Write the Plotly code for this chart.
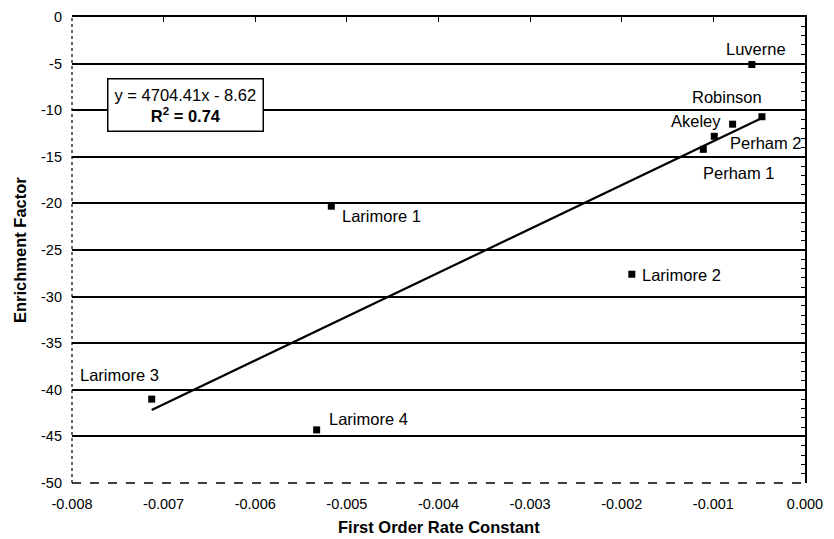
import plotly.graph_objects as go

# ---- data ----
sites = ["Luverne", "Robinson", "Akeley", "Perham 2", "Perham 1",
         "Larimore 1", "Larimore 2", "Larimore 3", "Larimore 4"]
rate_constant = [-0.00058, -0.00047, -0.00079, -0.00099, -0.00111,
                 -0.00517, -0.00189, -0.00713, -0.00533]
enrichment = [-5.1, -10.7, -11.5, -12.8, -14.2,
              -20.3, -27.6, -41.0, -44.3]

slope = 4704.41
intercept = -8.62
r_squared = 0.74

x_tick_vals = [-0.008, -0.007, -0.006, -0.005, -0.004, -0.003, -0.002, -0.001, 0.0]
x_tick_text = ["-0.008", "-0.007", "-0.006", "-0.005", "-0.004", "-0.003", "-0.002", "-0.001", "0.000"]
y_tick_vals = [0, -5, -10, -15, -20, -25, -30, -35, -40, -45, -50]
y_tick_text = ["0", "-5", "-10", "-15", "-20", "-25", "-30", "-35", "-40", "-45", "-50"]
grid_vals = [-5, -10, -15, -20, -25, -30, -35, -40, -45]

FONT = "Arial, Liberation Sans, sans-serif"

# label placement (anchor, xshift, yshift) per site
label_pos = {
    "Luverne": ("right", 36, 16),
    "Robinson": ("right", 2, 20),
    "Akeley": ("right", -10, 3),
    "Perham 2": ("left", 14, -7),
    "Perham 1": ("left", -2, -24),
    "Larimore 1": ("left", 9, -10),
    "Larimore 2": ("left", 8, -1),
    "Larimore 3": ("left", -74, 24),
    "Larimore 4": ("left", 10, 11),
}

x_line = [min(rate_constant), max(rate_constant)]
y_line = [slope * v + intercept for v in x_line]

fig = go.Figure()
fig.add_trace(go.Scatter(
    x=x_line, y=y_line, mode="lines",
    line=dict(color="black", width=2.2),
    xaxis="x2", yaxis="y2", showlegend=False, hoverinfo="skip"))
fig.add_trace(go.Scatter(
    x=rate_constant, y=enrichment, mode="markers",
    marker=dict(symbol="square", size=7, color="black"),
    showlegend=False))

annotations = []
for s, xv, yv in zip(sites, rate_constant, enrichment):
    anc, dx, dy = label_pos[s]
    annotations.append(dict(
        x=xv, y=yv, xref="x", yref="y", text=s, showarrow=False,
        xanchor=anc, yanchor="middle", xshift=dx, yshift=dy,
        font=dict(family=FONT, size=16.5, color="black")))

# equation box
annotations.append(dict(
    x=(185.5 - 72) / 733, y=(483 - 105) / 466, xref="paper", yref="paper",
    text=f"y = {slope:.2f}x - {abs(intercept):.2f}<br><b>R<sup>2</sup> = {r_squared:.2f}</b>",
    showarrow=False, align="center", xanchor="center", yanchor="middle",
    font=dict(family=FONT, size=16.5, color="black"),
    bordercolor="black", borderwidth=1.5, borderpad=6, bgcolor="white"))

# axis titles
annotations.append(dict(
    x=0.5, y=(483 - 527) / 466, xref="paper", yref="paper",
    text="<b>First Order Rate Constant</b>", showarrow=False,
    xanchor="center", yanchor="middle",
    font=dict(family=FONT, size=16.5, color="black")))
annotations.append(dict(
    x=(20 - 72) / 733, y=0.5, xref="paper", yref="paper",
    text="<b>Enrichment Factor</b>", showarrow=False, textangle=-90,
    xanchor="center", yanchor="middle",
    font=dict(family=FONT, size=16.5, color="black")))

# page body has an 8px margin: plot area 72..805 x 17..483 on screen
fig.update_layout(
    width=834, height=539,
    margin=dict(l=64, r=37, t=9, b=64, autoexpand=False),
    paper_bgcolor="white", plot_bgcolor="white",
    font=dict(family=FONT, color="black"),
    xaxis=dict(range=[-0.008, 0.0], tickvals=x_tick_vals, ticktext=x_tick_text,
               showgrid=False, zeroline=False, showline=False, ticks="",
               automargin=False, ticklabelstandoff=10,
               tickfont=dict(family=FONT, size=14.5, color="black")),
    yaxis=dict(range=[-50, 0], tickvals=y_tick_vals, ticktext=y_tick_text,
               showgrid=False, zeroline=False, showline=False, ticks="",
               automargin=False, ticklabelstandoff=9,
               tickfont=dict(family=FONT, size=14.5, color="black")),
    xaxis2=dict(range=[-0.008, 0.0], overlaying="x", side="top", anchor="y2",
                tickvals=x_tick_vals, showticklabels=False, ticks="inside",
                ticklen=5, tickcolor="black", showline=True, linecolor="black",
                linewidth=1.5, showgrid=False, zeroline=False, automargin=False),
    yaxis2=dict(range=[-50, 0], overlaying="y", side="right", anchor="x2",
                tickvals=grid_vals, showticklabels=False, ticks="inside",
                ticklen=5, tickcolor="black", showline=True, linecolor="black",
                linewidth=1.5, showgrid=True, gridcolor="black", gridwidth=1.5,
                zeroline=False, automargin=False,
                minor=dict(dtick=1, tick0=0, ticks="inside", ticklen=4,
                           tickcolor="black", showgrid=False)),
    annotations=annotations,
    shapes=[
        dict(type="line", xref="x domain", yref="y domain", x0=0, x1=0, y0=0, y1=1,
             line=dict(color="black", width=1.2, dash="dot")),
        dict(type="line", xref="x domain", yref="y domain", x0=0, x1=1, y0=0, y1=0,
             line=dict(color="black", width=1.5, dash="dash")),
    ],
)

fig.write_html("out.html")
